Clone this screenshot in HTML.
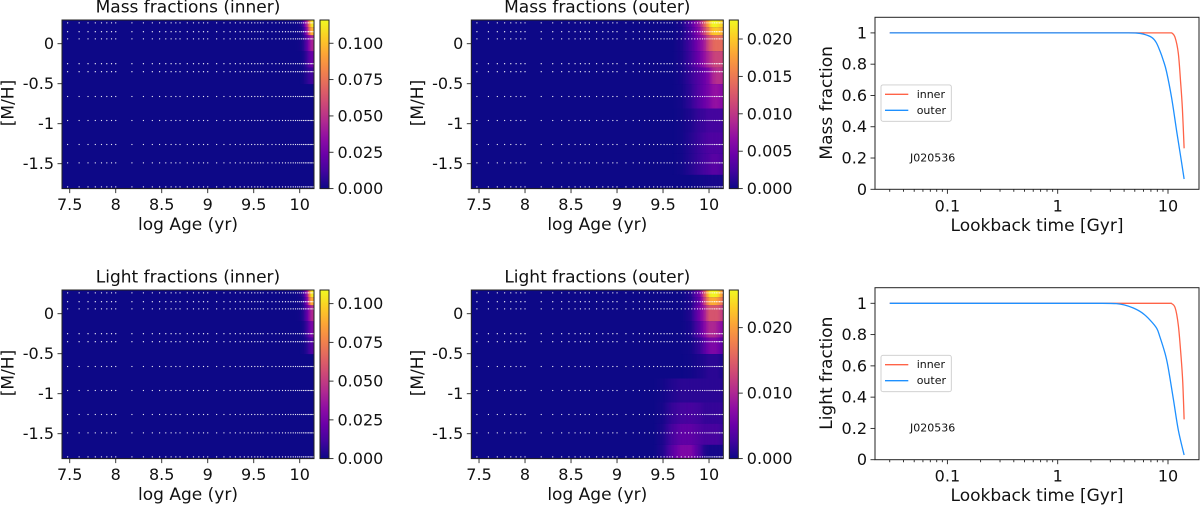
<!DOCTYPE html>
<html lang="en">
<head>
<meta charset="utf-8">
<title>Mass and light fractions J020536</title>
<style>
html,body{margin:0;padding:0;background:#fff;width:1200px;height:505px;overflow:hidden}
svg{display:block;font-family:"DejaVu Sans","Liberation Sans",sans-serif;fill:#111;filter:blur(0.3px)}
</style>
</head>
<body>
<svg id="figure" width="1200" height="505" viewBox="0 0 1200 505" xmlns="http://www.w3.org/2000/svg"></svg>
<script>
/* ---- data ---- */
const metallicities = [0.26, 0.15, 0.06, -0.25, -0.35, -0.66, -0.96, -1.26, -1.49, -1.79];
const templateAgesGyr = [0.03,0.04,0.05,0.06,0.07,0.08,0.09,0.1,0.15,0.2,0.25,0.3,0.35,0.4,0.45,0.5,0.6,0.7,0.8,0.9,1,1.25,1.5,1.75,2,2.25,2.5,2.75,3,3.25,3.5,3.75,4,4.5,5,5.5,6,6.5,7,7.5,8,8.5,9,9.5,10,10.5,11,11.5,12,12.5,13,13.5,14];
const heatColumns = [9.4, 9.5, 9.6, 9.7, 9.8, 9.9, 9.95, 10, 10.03, 10.06, 10.09, 10.12, 10.155];

const massInnerValues = [
  [0,0,0,0,0,0,0,0.002,0.008,0.03,0.06,0.105,0.115],
  [0,0,0,0,0,0,0,0.001,0.005,0.02,0.05,0.09,0.1],
  [0,0,0,0,0,0,0,0.001,0.004,0.012,0.025,0.04,0.045],
  [0,0,0,0,0,0,0,0,0.002,0.006,0.014,0.022,0.024],
  [0,0,0,0,0,0,0,0,0.001,0.004,0.008,0.011,0.012],
  [0,0,0,0,0,0,0,0,0,0,0,0,0],
  [0,0,0,0,0,0,0,0,0,0,0,0,0],
  [0,0,0,0,0,0,0,0,0,0,0,0,0],
  [0,0,0,0,0,0,0,0,0,0,0,0,0],
  [0,0,0,0,0,0,0,0,0,0,0,0,0]
];
const massOuterValues = [
  [0,0,0,0.0005,0.003,0.008,0.013,0.019,0.022,0.0225,0.022,0.021,0.02],
  [0,0,0,0.0004,0.0025,0.007,0.011,0.016,0.019,0.02,0.02,0.019,0.018],
  [0,0,0,0.0006,0.0025,0.006,0.008,0.012,0.013,0.014,0.014,0.014,0.014],
  [0,0,0,0.0005,0.0022,0.005,0.007,0.009,0.01,0.011,0.011,0.011,0.011],
  [0,0,0,0.0004,0.0018,0.0035,0.0045,0.006,0.008,0.009,0.0095,0.0095,0.009],
  [0,0,0,0.0003,0.0015,0.0035,0.0045,0.0055,0.0065,0.007,0.007,0.0065,0.006],
  [0,0,0,0.0002,0.0008,0.0018,0.002,0.0025,0.0025,0.0025,0.0025,0.0025,0.002],
  [0,0,0,0.0002,0.001,0.002,0.0025,0.003,0.003,0.003,0.003,0.003,0.0025],
  [0,0,0,0.0002,0.001,0.002,0.0025,0.003,0.0035,0.0035,0.0035,0.003,0.003],
  [0,0,0,0,0,0.0002,0.0003,0.0004,0.0005,0.0005,0.0005,0.0005,0.0005]
];
const lightInnerValues = [
  [0,0,0,0,0,0,0,0.002,0.006,0.02,0.05,0.1,0.108],
  [0,0,0,0,0,0,0,0.001,0.004,0.015,0.04,0.085,0.09],
  [0,0,0,0,0,0,0,0.001,0.004,0.012,0.025,0.04,0.045],
  [0,0,0,0,0,0,0,0,0.002,0.006,0.014,0.025,0.028],
  [0,0,0,0,0,0,0,0,0.001,0.003,0.008,0.014,0.016],
  [0,0,0,0,0,0,0,0,0,0,0,0,0],
  [0,0,0,0,0,0,0,0,0,0,0,0,0],
  [0,0,0,0,0,0,0,0,0,0,0,0,0],
  [0,0,0,0,0,0,0,0,0,0,0,0,0],
  [0,0,0,0,0,0,0,0,0,0,0,0,0]
];
const lightOuterValues = [
  [0,0,0,0,0.001,0.006,0.014,0.024,0.0255,0.0255,0.025,0.022,0.018],
  [0,0,0,0,0.0008,0.005,0.012,0.02,0.021,0.021,0.02,0.018,0.016],
  [0,0,0,0,0.001,0.006,0.009,0.014,0.014,0.014,0.014,0.013,0.011],
  [0,0,0,0,0.0006,0.004,0.007,0.01,0.01,0.01,0.009,0.008,0.007],
  [0,0,0,0,0.0003,0.002,0.004,0.006,0.0065,0.0065,0.006,0.005,0.004],
  [0,0,0,0,0.0002,0.0007,0.001,0.0015,0.0015,0.0015,0.0015,0.001,0.001],
  [0,0.0003,0.001,0.0015,0.0015,0.0015,0.0015,0.0015,0.0015,0.0015,0.0015,0.0015,0.001],
  [0,0.0005,0.002,0.0028,0.003,0.0025,0.002,0.002,0.002,0.002,0.002,0.002,0.0015],
  [0,0.0008,0.003,0.0045,0.0045,0.0035,0.003,0.003,0.003,0.003,0.003,0.0025,0.002],
  [0,0.001,0.004,0.0065,0.0065,0.003,0.001,0.0005,0.0005,0.0005,0.0005,0.0005,0.0005]
];

const massInnerTime = [0.03,1,5,10,10.8,11.6,12.4,13,13.5,14];
const massInnerFrac = [1,1,1,1,1,0.97,0.87,0.689,0.518,0.262];
const massOuterTime = [0.03,1,4,5.2,6,7.1,7.8,8.45,9.06,9.7,10.8,12,13.1,14];
const massOuterFrac = [1,1,1,0.999,0.992,0.972,0.94,0.885,0.825,0.752,0.582,0.369,0.198,0.066];
const lightInnerTime = [0.03,1,5,10,10.66,11.6,12.4,13.1,13.6,14];
const lightInnerFrac = [1,1,1,1,1,0.972,0.861,0.669,0.499,0.258];
const lightOuterTime = [0.03,1,2.5,3.4,4,4.85,5.8,6.87,7.9,8.45,9.4,10,11.2,12.4,14];
const lightOuterFrac = [1,1,1,0.998,0.99,0.97,0.94,0.893,0.84,0.785,0.68,0.595,0.385,0.19,0.03];

const ageTicks = [7.5, 8, 8.5, 9, 9.5, 10];
const ageTickLabels = ['7.5', '8', '8.5', '9', '9.5', '10'];
const metalTicks = [0, -0.5, -1, -1.5];
const metalTickLabels = ['0', '-0.5', '-1', '-1.5'];
const fracTicks = [0, 0.2, 0.4, 0.6, 0.8, 1];
const fracTickLabels = ['0', '0.2', '0.4', '0.6', '0.8', '1'];
const timeTicks = [0.1, 1, 10];
const timeTickLabels = ['0.1', '1', '10'];
const timeMinorTicks = [0.03,0.04,0.05,0.06,0.07,0.08,0.09,0.2,0.3,0.4,0.5,0.6,0.7,0.8,0.9,2,3,4,5,6,7,8,9,20];
const massInnerBarTicks = [0, 0.025, 0.05, 0.075, 0.1];
const massInnerBarLabels = ['0.000', '0.025', '0.050', '0.075', '0.100'];
const massOuterBarTicks = [0, 0.005, 0.01, 0.015, 0.02];
const massOuterBarLabels = ['0.000', '0.005', '0.010', '0.015', '0.020'];
const lightInnerBarTicks = [0, 0.025, 0.05, 0.075, 0.1];
const lightInnerBarLabels = ['0.000', '0.025', '0.050', '0.075', '0.100'];
const lightOuterBarTicks = [0, 0.01, 0.02];
const lightOuterBarLabels = ['0.000', '0.010', '0.020'];
const plasmaStops = ['#0d0887','#41049d','#6a00a8','#8f0da4','#b12a90','#cc4778','#e16462','#f2844b','#fca636','#fcce25','#f0f921'];

/* ---- helpers ---- */
const NS = 'http://www.w3.org/2000/svg';
const root = document.getElementById('figure');
const INK = '#222';
const TICK_SIZE = 16;
const AXIS_SIZE = 17;
const TITLE_SIZE = 17;
function make(parent, tag, attrs, content) {
  const el = document.createElementNS(NS, tag);
  for (const k in attrs) el.setAttribute(k, attrs[k]);
  if (content !== undefined) el.textContent = content;
  parent.appendChild(el);
  return el;
}
function hexRgb(h) {
  return [parseInt(h.slice(1,3),16), parseInt(h.slice(3,5),16), parseInt(h.slice(5,7),16)];
}
function plasma(t) {
  const c = Math.max(0, Math.min(1, t)) * (plasmaStops.length - 1);
  const i = Math.min(plasmaStops.length - 2, Math.floor(c));
  const a = hexRgb(plasmaStops[i]);
  const b = hexRgb(plasmaStops[i + 1]);
  const f = c - i;
  return 'rgb(' + a.map((v, n) => Math.round(v + (b[n] - v) * f)).join(',') + ')';
}
function label(parent, x, y, text, size, anchor, name, rotate) {
  const attrs = {x: x, y: y, 'font-size': size, 'text-anchor': anchor || 'middle', 'dominant-baseline': 'central'};
  if (rotate) attrs.transform = 'rotate(-90 ' + x + ' ' + y + ')';
  const el = make(parent, 'text', attrs, text);
  
  
  return el;
}
function tickLine(parent, x1, y1, x2, y2, name) {
  const el = make(parent, 'line', {x1: x1, y1: y1, x2: x2, y2: y2, stroke: INK, 'stroke-width': 0.9});
  
  
}
function frame(parent, x, y, w, h, name) {
  const el = make(parent, 'rect', {x: x, y: y, width: w, height: h, fill: 'none', stroke: INK, 'stroke-width': 1});
  
  
}

/* ---- heatmap panel ---- */
function drawHeatmap(opts) {
  const g = make(root, 'g', {});
  
  
  const L = opts.left, T = opts.top, W = 252, H = 168.6, B = T + H, R = L + W;
  const xAge = v => L + (v - 7.416) * 92;
  const yMet = v => T + 23.7 - v * 80;
  const bg = make(g, 'rect', {x: L, y: T, width: W, height: H, fill: plasma(0)});
  
  

  opts.values.forEach((row, r) => {
    const yTop = r === 0 ? T : yMet((metallicities[r - 1] + metallicities[r]) / 2);
    const yBot = r === metallicities.length - 1 ? B : yMet((metallicities[r] + metallicities[r + 1]) / 2);
    for (let c = 0; c < heatColumns.length - 1; c++) {
      const x0 = xAge(heatColumns[c]);
      const x1 = Math.min(R, xAge(heatColumns[c + 1]));
      const steps = Math.max(1, Math.round((x1 - x0) / 1.5));
      for (let s = 0; s < steps; s++) {
        const f = (s + 0.5) / steps;
        const v = row[c] + (row[c + 1] - row[c]) * f;
        if (v <= 0) continue;
        const cx = x0 + (x1 - x0) * s / steps;
        const cw = (x1 - x0) / steps;
        const cell = make(g, 'rect', {x: cx.toFixed(2), y: yTop.toFixed(2), width: (cw + (s === steps - 1 && c === heatColumns.length - 2 ? 0 : 0.4)).toFixed(2), height: (yBot - yTop).toFixed(2), fill: plasma(v / opts.vmax)});
        
        
      }
    }
  });

  metallicities.forEach(m => {
    templateAgesGyr.forEach(a => {
      const dot = make(g, 'circle', {cx: xAge(Math.log10(a * 1e9)).toFixed(2), cy: yMet(m).toFixed(2), r: 0.65, fill: '#fff', 'fill-opacity': 0.9});
      
      
    });
  });

  frame(g, L, T, W, H, opts.name + '-frame');
  ageTicks.forEach((v, i) => {
    tickLine(g, xAge(v), B, xAge(v), B + 4.5, 'x-tick');
    label(g, xAge(v), B + 16, ageTickLabels[i], TICK_SIZE, 'middle', 'x-tick-label');
  });
  metalTicks.forEach((v, i) => {
    tickLine(g, L - 4.5, yMet(v), L, yMet(v), 'y-tick');
    label(g, L - 8, yMet(v), metalTickLabels[i], TICK_SIZE, 'end', 'y-tick-label');
  });
  label(g, L + W / 2, T - 12.7, opts.title, TITLE_SIZE, 'middle', 'panel-title');
  label(g, L + W / 2, B + 36.5, 'log Age (yr)', AXIS_SIZE, 'middle', 'x-axis-title');
  label(g, L - 53.5, T + 83, '[M/H]', AXIS_SIZE, 'middle', 'y-axis-title', true);

  /* colorbar */
  const cbX = L + 258, cbW = 9;
  const yBar = v => B - v / opts.vmax * H;
  const gradId = opts.name + '-gradient';
  const defs = make(g, 'defs', {});
  const grad = make(defs, 'linearGradient', {id: gradId, x1: 0, y1: 1, x2: 0, y2: 0});
  plasmaStops.forEach((col, i) => {
    make(grad, 'stop', {offset: i / (plasmaStops.length - 1), 'stop-color': col});
  });
  const bar = make(g, 'rect', {x: cbX, y: T, width: cbW, height: H, fill: 'url(#' + gradId + ')'});
  
  
  frame(g, cbX, T, cbW, H, 'colorbar-frame');
  opts.barTicks.forEach((v, i) => {
    tickLine(g, cbX + cbW, yBar(v), cbX + cbW + 4.5, yBar(v), 'colorbar-tick');
    label(g, cbX + cbW + 8.5, yBar(v), opts.barLabels[i], TICK_SIZE, 'start', 'colorbar-tick-label');
  });
}

/* ---- cumulative panel ---- */
function smoothPath(pts) {
  let d = 'M' + pts[0][0].toFixed(2) + ' ' + pts[0][1].toFixed(2);
  for (let i = 0; i < pts.length - 1; i++) {
    const p0 = pts[Math.max(0, i - 1)], p1 = pts[i], p2 = pts[i + 1], p3 = pts[Math.min(pts.length - 1, i + 2)];
    const top = Math.min(p1[1], p2[1]);
    const c1x = p1[0] + (p2[0] - p0[0]) / 6;
    const c1y = Math.max(top, p1[1] + (p2[1] - p0[1]) / 6);
    const c2x = p2[0] - (p3[0] - p1[0]) / 6;
    const c2y = Math.max(top, p2[1] - (p3[1] - p1[1]) / 6);
    d += 'C' + c1x.toFixed(2) + ' ' + c1y.toFixed(2) + ' ' + c2x.toFixed(2) + ' ' + c2y.toFixed(2) + ' ' + p2[0].toFixed(2) + ' ' + p2[1].toFixed(2);
  }
  return d;
}
function drawCumulative(opts) {
  const g = make(root, 'g', {});
  
  
  const L = 875, R = 1199, T = opts.top, B = T + 172, UNIT = 156.4;
  const xTime = t => 1057.7 + Math.log10(t) * 110.3;
  const yFrac = f => B - f * UNIT;
  const clip = opts.name + '-clip';
  const defs = make(g, 'defs', {});
  const cp = make(defs, 'clipPath', {id: clip});
  make(cp, 'rect', {x: L, y: T, width: R - L, height: B - T});

  const inner = make(g, 'path', {d: smoothPath(opts.innerTime.map((t, i) => [xTime(t), yFrac(opts.innerFrac[i])])), fill: 'none', stroke: '#ff6347', 'stroke-width': 1.3, 'clip-path': 'url(#' + clip + ')'});
  
  
  const outer = make(g, 'path', {d: smoothPath(opts.outerTime.map((t, i) => [xTime(t), yFrac(opts.outerFrac[i])])), fill: 'none', stroke: '#1e90ff', 'stroke-width': 1.3, 'clip-path': 'url(#' + clip + ')'});
  
  

  frame(g, L, T, R - L, B - T, opts.name + '-frame');
  timeTicks.forEach((v, i) => {
    tickLine(g, xTime(v), B, xTime(v), B + 4.5, 'x-tick');
    label(g, xTime(v), B + 16.5, timeTickLabels[i], TICK_SIZE, 'middle', 'x-tick-label');
  });
  timeMinorTicks.forEach(v => {
    if (xTime(v) < R) tickLine(g, xTime(v), B, xTime(v), B + 2.5, 'x-minor-tick');
  });
  fracTicks.forEach((v, i) => {
    tickLine(g, L - 4.5, yFrac(v), L, yFrac(v), 'y-tick');
    label(g, L - 8, yFrac(v), fracTickLabels[i], TICK_SIZE, 'end', 'y-tick-label');
  });
  label(g, 1037, B + 36.5, 'Lookback time [Gyr]', AXIS_SIZE, 'middle', 'x-axis-title');
  label(g, 827, T + 85.5, opts.ylabel, AXIS_SIZE, 'middle', 'y-axis-title', true);
  label(g, 910, T + 140.5, 'J020536', 11, 'start', 'galaxy-id-label');

  const box = make(g, 'rect', {x: 881, y: T + 67.6, width: 70.3, height: 36.4, rx: 2, fill: '#fff', 'fill-opacity': 0.8, stroke: '#ccc', 'stroke-width': 0.9});
  
  
  const l1 = make(g, 'line', {x1: 885, x2: 908.3, y1: T + 77, y2: T + 77, stroke: '#ff6347', 'stroke-width': 1.3});
  
  
  label(g, 916.7, T + 77, 'inner', 11, 'start', 'legend-inner-label');
  const l2 = make(g, 'line', {x1: 885, x2: 908.3, y1: T + 93, y2: T + 93, stroke: '#1e90ff', 'stroke-width': 1.3});
  
  
  label(g, 916.7, T + 93, 'outer', 11, 'start', 'legend-outer-label');
}

/* ---- figure ---- */
drawHeatmap({name: 'mass-inner', title: 'Mass fractions (inner)', left: 62, top: 20, vmax: 0.116, values: massInnerValues, barTicks: massInnerBarTicks, barLabels: massInnerBarLabels});
drawHeatmap({name: 'mass-outer', title: 'Mass fractions (outer)', left: 471.3, top: 20, vmax: 0.02254, values: massOuterValues, barTicks: massOuterBarTicks, barLabels: massOuterBarLabels});
drawHeatmap({name: 'light-inner', title: 'Light fractions (inner)', left: 62, top: 290, vmax: 0.1088, values: lightInnerValues, barTicks: lightInnerBarTicks, barLabels: lightInnerBarLabels});
drawHeatmap({name: 'light-outer', title: 'Light fractions (outer)', left: 471.3, top: 290, vmax: 0.02575, values: lightOuterValues, barTicks: lightOuterBarTicks, barLabels: lightOuterBarLabels});
drawCumulative({name: 'mass-cumulative', top: 17.3, ylabel: 'Mass fraction', innerTime: massInnerTime, innerFrac: massInnerFrac, outerTime: massOuterTime, outerFrac: massOuterFrac});
drawCumulative({name: 'light-cumulative', top: 287.7, ylabel: 'Light fraction', innerTime: lightInnerTime, innerFrac: lightInnerFrac, outerTime: lightOuterTime, outerFrac: lightOuterFrac});
</script>
</body>
</html>
